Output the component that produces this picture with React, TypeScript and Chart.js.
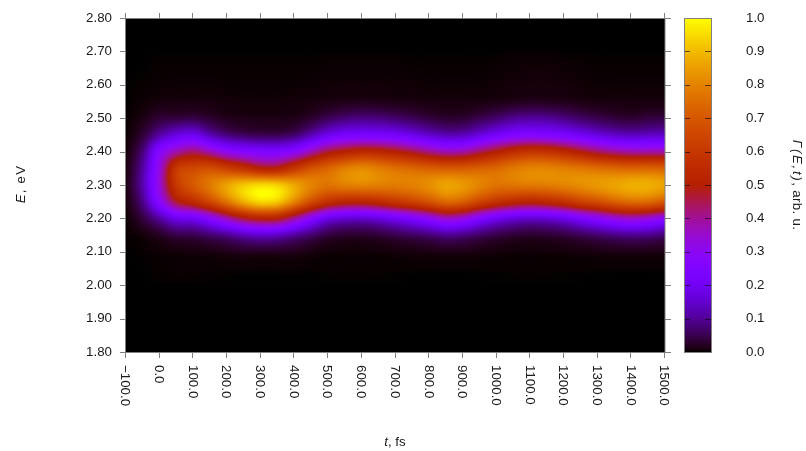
import React, { useEffect, useRef } from "react";
import { Chart, registerables } from "chart.js";

Chart.register(...registerables);

const FONT = '"Liberation Sans", Arial, sans-serif';
const LINE = "#808080";

const xTicks = { min: -100, max: 1500, step: 100 };
const yTicks = { min: 1.8, max: 2.8, step: 0.1 };
const colorRange = [0, 1];

const times = [-100, -50, 0, 50, 100, 150, 200, 250, 300, 350, 400, 450, 500, 550, 600, 650, 700, 750, 800, 850, 900, 950, 1000, 1050, 1100, 1150, 1200, 1250, 1300, 1350, 1400, 1450, 1500];
const energies = [2.0, 2.05, 2.1, 2.15, 2.2, 2.25, 2.3, 2.35, 2.4, 2.45, 2.5, 2.55, 2.6, 2.65, 2.7];

// One line per time, values from lowest to highest energy.
const intensity = [
  [0, 0, 0, 0.001, 0.003, 0.008, 0.012, 0.01, 0.006, 0.002, 0.001, 0, 0, 0, 0],
  [0, 0, 0.001, 0.006, 0.04, 0.09, 0.12, 0.11, 0.08, 0.035, 0.012, 0.003, 0.001, 0, 0],
  [0, 0.001, 0.003, 0.022, 0.11, 0.28, 0.34, 0.33, 0.27, 0.11, 0.035, 0.008, 0.002, 0.001, 0],
  [0, 0.002, 0.006, 0.045, 0.19, 0.47, 0.6, 0.6, 0.38, 0.17, 0.04, 0.009, 0.003, 0.001, 0],
  [0, 0.002, 0.008, 0.05, 0.21, 0.55, 0.7, 0.65, 0.43, 0.19, 0.045, 0.009, 0.003, 0.001, 0],
  [0, 0.002, 0.01, 0.07, 0.28, 0.65, 0.78, 0.67, 0.375, 0.125, 0.03, 0.008, 0.003, 0.001, 0],
  [0, 0.002, 0.015, 0.095, 0.38, 0.77, 0.86, 0.62, 0.3, 0.08, 0.018, 0.006, 0.002, 0.001, 0],
  [0, 0.002, 0.02, 0.13, 0.47, 0.88, 0.92, 0.57, 0.27, 0.06, 0.014, 0.005, 0.002, 0.001, 0],
  [0, 0.002, 0.02, 0.15, 0.51, 0.945, 0.945, 0.51, 0.25, 0.052, 0.013, 0.005, 0.002, 0.001, 0],
  [0, 0.002, 0.02, 0.14, 0.5, 0.92, 0.93, 0.51, 0.25, 0.052, 0.013, 0.005, 0.002, 0.001, 0],
  [0, 0.002, 0.017, 0.105, 0.4, 0.8, 0.865, 0.595, 0.285, 0.07, 0.016, 0.006, 0.002, 0.001, 0],
  [0, 0.001, 0.01, 0.07, 0.28, 0.665, 0.8, 0.68, 0.375, 0.125, 0.03, 0.008, 0.003, 0.001, 0],
  [0, 0.001, 0.005, 0.04, 0.19, 0.57, 0.765, 0.73, 0.465, 0.19, 0.055, 0.011, 0.004, 0.002, 0],
  [0, 0.001, 0.004, 0.03, 0.16, 0.53, 0.79, 0.785, 0.51, 0.225, 0.075, 0.014, 0.005, 0.002, 0],
  [0, 0.001, 0.004, 0.029, 0.155, 0.525, 0.8, 0.81, 0.54, 0.235, 0.085, 0.016, 0.005, 0.002, 0],
  [0, 0.001, 0.005, 0.035, 0.175, 0.55, 0.79, 0.785, 0.53, 0.23, 0.08, 0.015, 0.005, 0.002, 0],
  [0, 0.001, 0.007, 0.048, 0.21, 0.59, 0.785, 0.755, 0.5, 0.215, 0.07, 0.012, 0.004, 0.002, 0],
  [0, 0.001, 0.009, 0.06, 0.25, 0.63, 0.795, 0.735, 0.46, 0.185, 0.055, 0.011, 0.004, 0.001, 0],
  [0, 0.001, 0.011, 0.075, 0.3, 0.68, 0.82, 0.715, 0.41, 0.15, 0.04, 0.009, 0.003, 0.001, 0],
  [0, 0.001, 0.014, 0.095, 0.36, 0.74, 0.86, 0.705, 0.375, 0.125, 0.03, 0.008, 0.003, 0.001, 0],
  [0, 0.001, 0.013, 0.085, 0.335, 0.715, 0.84, 0.705, 0.385, 0.13, 0.032, 0.008, 0.003, 0.001, 0],
  [0, 0.001, 0.009, 0.063, 0.26, 0.64, 0.8, 0.72, 0.44, 0.17, 0.05, 0.009, 0.003, 0.001, 0],
  [0, 0.001, 0.007, 0.046, 0.205, 0.58, 0.765, 0.74, 0.5, 0.215, 0.07, 0.012, 0.004, 0.002, 0],
  [0, 0.001, 0.005, 0.034, 0.17, 0.54, 0.77, 0.775, 0.555, 0.25, 0.095, 0.016, 0.006, 0.003, 0.001],
  [0, 0.001, 0.004, 0.029, 0.155, 0.52, 0.78, 0.8, 0.585, 0.265, 0.105, 0.02, 0.007, 0.004, 0.001],
  [0, 0.001, 0.005, 0.032, 0.165, 0.54, 0.785, 0.8, 0.575, 0.255, 0.1, 0.018, 0.007, 0.004, 0.001],
  [0, 0.001, 0.006, 0.04, 0.19, 0.575, 0.8, 0.785, 0.54, 0.235, 0.085, 0.016, 0.006, 0.003, 0],
  [0, 0.001, 0.008, 0.055, 0.24, 0.63, 0.82, 0.77, 0.49, 0.205, 0.065, 0.012, 0.004, 0.002, 0],
  [0, 0.001, 0.01, 0.07, 0.285, 0.67, 0.84, 0.75, 0.44, 0.17, 0.05, 0.009, 0.003, 0.001, 0],
  [0, 0.001, 0.013, 0.085, 0.335, 0.72, 0.86, 0.735, 0.405, 0.145, 0.038, 0.009, 0.003, 0.001, 0],
  [0, 0.001, 0.014, 0.095, 0.36, 0.75, 0.88, 0.725, 0.385, 0.135, 0.032, 0.008, 0.003, 0.001, 0],
  [0, 0.001, 0.013, 0.09, 0.34, 0.745, 0.88, 0.73, 0.385, 0.14, 0.04, 0.008, 0.003, 0.001, 0],
  [0, 0.001, 0.011, 0.075, 0.3, 0.705, 0.86, 0.72, 0.385, 0.145, 0.042, 0.008, 0.003, 0.001, 0],
];

const heatCells = times.flatMap((t, i) => energies.map((e, j) => ({ x: t, y: e, v: intensity[i][j] })));

function palette(v: number): [number, number, number] {
  const x = Math.min(1, Math.max(0, v));
  return [Math.sqrt(x) * 255, x * x * x * 255, Math.max(0, Math.sin(2 * Math.PI * x)) * 255];
}

function catmull(a: number, b: number, c: number, d: number, f: number) {
  return b + 0.5 * f * (c - a + f * (2 * a - 5 * b + 4 * c - d + f * (3 * (b - c) + d - a)));
}

function sampleGrid(t: number, e: number) {
  const dt = times[1] - times[0];
  const de = energies[1] - energies[0];
  const ft = (t - times[0]) / dt;
  const fe = (e - energies[0]) / de;
  if (fe < 0 || fe > energies.length - 1) return 0;
  const it = Math.min(times.length - 2, Math.max(0, Math.floor(ft)));
  const ie = Math.min(energies.length - 2, Math.max(0, Math.floor(fe)));
  const cell = (i: number, j: number) =>
    intensity[Math.min(times.length - 1, Math.max(0, i))][Math.min(energies.length - 1, Math.max(0, j))];
  const row = [0, 0, 0, 0];
  for (let k = -1; k <= 2; k++) {
    row[k + 1] = catmull(cell(it - 1, ie + k), cell(it, ie + k), cell(it + 1, ie + k), cell(it + 2, ie + k), ft - it);
  }
  return catmull(row[0], row[1], row[2], row[3], fe - ie);
}

const heatmapPlugin = {
  id: "heatmap",
  beforeDatasetsDraw(chart: any) {
    const { ctx, chartArea: a, scales } = chart;
    const w = Math.round(a.right - a.left);
    const h = Math.round(a.bottom - a.top);
    const img = ctx.createImageData(w, h);
    for (let py = 0; py < h; py++) {
      const e = scales.y.getValueForPixel(a.top + py + 0.5);
      for (let px = 0; px < w; px++) {
        const t = scales.x.getValueForPixel(a.left + px + 0.5);
        const [r, g, b] = palette(sampleGrid(t, e));
        const o = (py * w + px) * 4;
        img.data[o] = r;
        img.data[o + 1] = g;
        img.data[o + 2] = b;
        img.data[o + 3] = 255;
      }
    }
    ctx.putImageData(img, Math.round(a.left), Math.round(a.top));
  },
};

function drawMixed(ctx: any, parts: [string, boolean, number][], x: number, y: number, rot: number) {
  ctx.save();
  ctx.translate(x, y);
  ctx.rotate(rot);
  ctx.textBaseline = "middle";
  ctx.textAlign = "left";
  ctx.fillStyle = "#1a1a1a";
  const setup = (it: boolean, sp: number) => {
    ctx.font = `${it ? "italic " : ""}13.33px ${FONT}`;
    ctx.letterSpacing = `${sp}px`;
  };
  let total = 0;
  for (const [s, it, sp] of parts) {
    setup(it, sp);
    total += ctx.measureText(s).width;
  }
  let cx = -total / 2;
  for (const [s, it, sp] of parts) {
    setup(it, sp);
    ctx.fillText(s, cx, 0);
    cx += ctx.measureText(s).width;
  }
  ctx.letterSpacing = "0px";
  ctx.restore();
}

const framePlugin = {
  id: "frame",
  afterDraw(chart: any) {
    const { ctx, chartArea: a, scales } = chart;
    ctx.save();
    ctx.strokeStyle = LINE;
    ctx.lineWidth = 1;
    ctx.strokeRect(a.left - 0.5, a.top + 0.5, a.right - a.left + 0.5, a.bottom - a.top);
    ctx.beginPath();
    scales.x.ticks.forEach((_: any, i: number) => {
      const p = Math.round(scales.x.getPixelForTick(i)) - 0.5;
      ctx.moveTo(p, a.top - 5);
      ctx.lineTo(p, a.top);
      ctx.moveTo(p, a.bottom);
      ctx.lineTo(p, a.bottom + 6);
    });
    scales.y.ticks.forEach((_: any, i: number) => {
      const p = Math.round(scales.y.getPixelForTick(i)) + 0.5;
      ctx.moveTo(a.left - 6, p);
      ctx.lineTo(a.left, p);
      ctx.moveTo(a.right, p);
      ctx.lineTo(a.right + 6, p);
    });
    ctx.stroke();
    ctx.fillStyle = "#1a1a1a";
    ctx.font = `13.33px ${FONT}`;
    ctx.textBaseline = "middle";
    ctx.textAlign = "left";
    scales.x.ticks.forEach((tick: any, i: number) => {
      ctx.save();
      ctx.translate(scales.x.getPixelForTick(i) - 1, 365);
      ctx.rotate(Math.PI / 2);
      ctx.fillText(tick.label, 0, 0);
      ctx.restore();
    });
    ctx.restore();
    drawMixed(ctx, [["E", true, 1.2], [", eV", false, 1.2]], 21, 184, -Math.PI / 2);
    drawMixed(ctx, [["t", true, 0], [", fs", false, 0]], 395, 442, 0);
    drawMixed(ctx, [["\u0393(E,t)", true, 1.6], [", arb. u.", false, 0.3]], 797, 185, Math.PI / 2);
  },
};

const colorbarPlugin = {
  id: "colorbarFrame",
  afterDraw(chart: any) {
    const { ctx, chartArea: a, scales } = chart;
    ctx.save();
    ctx.strokeStyle = "rgba(0,0,0,0.6)";
    ctx.lineWidth = 1;
    ctx.beginPath();
    scales.y.ticks.forEach((_: any, i: number) => {
      const p = Math.round(scales.y.getPixelForTick(i)) + 0.5;
      ctx.moveTo(a.left, p);
      ctx.lineTo(a.left + 6, p);
      ctx.moveTo(a.right - 6, p);
      ctx.lineTo(a.right, p);
    });
    ctx.stroke();
    ctx.strokeStyle = LINE;
    ctx.strokeRect(a.left + 0.5, a.top + 0.5, a.right - a.left, a.bottom - a.top);
    ctx.restore();
  },
};

const font = { family: FONT, size: 13.33 };

const noPadX = (s: any) => { s.height = 99; s.paddingLeft = 0; s.paddingRight = 0; };
const noPadY = (width: number) => (s: any) => { s.width = width; s.paddingTop = 0; s.paddingBottom = 0; };

export default function App() {
  const mainRef = useRef<HTMLCanvasElement>(null);
  const barRef = useRef<HTMLCanvasElement>(null);

  useEffect(() => {
    const main = new Chart(mainRef.current as any, {
      type: "scatter",
      data: { datasets: [{ data: heatCells as any, pointRadius: 0, pointHoverRadius: 0 }] },
      options: {
        animation: false,
        responsive: false,
        devicePixelRatio: 1,
        events: [],
        layout: { padding: { left: 0, right: 141, top: 18, bottom: 0 } },
        plugins: { legend: { display: false }, tooltip: { enabled: false } },
        scales: {
          x: {
            type: "linear",
            min: xTicks.min,
            max: xTicks.max,
            grid: { display: false },
            border: { display: false },
            afterFit: noPadX,
            ticks: {
              display: false,
              stepSize: xTicks.step,
              autoSkip: false,
              callback: (v: any) => Number(v).toFixed(1).replace("-", "\u2212"),
            },
          },
          y: {
            type: "linear",
            min: yTicks.min,
            max: yTicks.max,
            grid: { display: false, drawTicks: false },
            border: { display: false },
            afterFit: noPadY(126),
            ticks: {
              stepSize: yTicks.step,
              color: "#1a1a1a",
              font,
              padding: 14,
              callback: (v: any) => Number(v).toFixed(2),
            },
          },
        },
      },
      plugins: [heatmapPlugin, framePlugin],
    } as any);

    const bar = new Chart(barRef.current as any, {
      type: "bar",
      data: {
        labels: ["\u0393"],
        datasets: [
          {
            data: [colorRange] as any,
            barPercentage: 1,
            categoryPercentage: 1,
            backgroundColor: (c: any) => {
              const a = c.chart.chartArea;
              if (!a) return "#000";
              const g = c.chart.ctx.createLinearGradient(0, a.bottom, 0, a.top);
              for (let i = 0; i <= 100; i++) {
                const [r, gg, b] = palette(i / 100);
                g.addColorStop(i / 100, `rgb(${r},${gg},${b})`);
              }
              return g;
            },
          },
        ],
      },
      options: {
        animation: false,
        responsive: false,
        devicePixelRatio: 1,
        events: [],
        layout: { padding: { left: 684, right: 0, top: 18, bottom: 0 } },
        plugins: { legend: { display: false }, tooltip: { enabled: false } },
        scales: {
          x: {
            display: true,
            grid: { display: false },
            border: { display: false },
            ticks: { display: false },
            afterFit: noPadX,
          },
          y: {
            position: "right",
            min: colorRange[0],
            max: colorRange[1],
            grid: { display: false, drawTicks: false },
            border: { display: false },
            afterFit: noPadY(95),
            ticks: {
              stepSize: 0.1,
              color: "#1a1a1a",
              font,
              padding: 35,
              callback: (v: any) => Number(v).toFixed(1),
            },
          },
        },
      },
      plugins: [colorbarPlugin],
    } as any);

    return () => {
      main.destroy();
      bar.destroy();
    };
  }, []);

  const style: React.CSSProperties = { position: "absolute", left: 0, top: 0, display: "block" };
  return (
    <div style={{ position: "fixed", left: 0, top: 0, width: 806, height: 451, background: "#fff" }}>
      <canvas ref={mainRef} width={806} height={451} style={style} />
      <canvas ref={barRef} width={806} height={451} style={style} />
    </div>
  );
}
